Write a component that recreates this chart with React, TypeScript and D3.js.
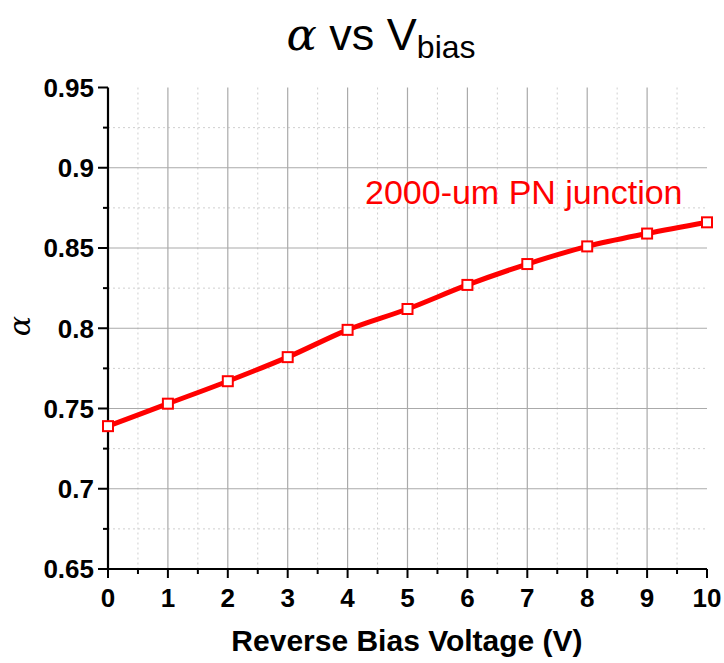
import React from "react";
import * as d3 from "d3";

const voltages = [0, 1, 2, 3, 4, 5, 6, 7, 8, 9, 10];
const alphaValues = [0.739, 0.753, 0.767, 0.782, 0.799, 0.812, 0.827, 0.84, 0.851, 0.859, 0.866];
const xTicks = [0, 1, 2, 3, 4, 5, 6, 7, 8, 9, 10];
const yTicks = [0.65, 0.7, 0.75, 0.8, 0.85, 0.9, 0.95];
const yTickLabels = ["0.65", "0.7", "0.75", "0.8", "0.85", "0.9", "0.95"];
const seriesLabel = "2000-um PN junction";

const W = 724, H = 663;
const left = 108, right = 707, top = 87.5, bottom = 569;

export default function App() {
  const x = d3.scaleLinear().domain([0, 10]).range([left, right]);
  const y = d3.scaleLinear().domain([0.65, 0.95]).range([bottom, top]);
  const xMinor = d3.range(0, 10).map((v) => v + 0.5);
  const yMinor = d3.range(0, 6).map((i) => 0.675 + i * 0.05);
  const line = d3
    .line<number>()
    .x((_, i) => x(voltages[i]))
    .y((d) => y(d))
    .curve(d3.curveMonotoneX);
  const font = "'Liberation Sans', Arial, Helvetica, sans-serif";
  return (
    <svg width={W} height={H} style={{ position: "absolute", left: 0, top: 0, background: "#fff" }}>
      {/* minor grid */}
      {xMinor.map((v) => (
        <line key={"xm" + v} x1={x(v)} x2={x(v)} y1={top} y2={bottom} stroke="#cfcfcf" strokeWidth={1} strokeDasharray="2,3" />
      ))}
      {yMinor.map((v) => (
        <line key={"ym" + v} x1={left} x2={right} y1={y(v)} y2={y(v)} stroke="#cfcfcf" strokeWidth={1} strokeDasharray="2,3" />
      ))}
      {/* major grid */}
      {xTicks.slice(1, -1).map((v) => (
        <line key={"xg" + v} x1={x(v)} x2={x(v)} y1={top} y2={bottom} stroke="#aaaaaa" strokeWidth={1.2} />
      ))}
      {yTicks.slice(1, -1).map((v) => (
        <line key={"yg" + v} x1={left} x2={right} y1={y(v)} y2={y(v)} stroke="#aaaaaa" strokeWidth={1.2} />
      ))}
      {/* axes */}
      <line x1={left} x2={left} y1={top} y2={bottom + 1} stroke="#000" strokeWidth={2.2} />
      <line x1={left - 1} x2={right} y1={bottom} y2={bottom} stroke="#000" strokeWidth={2.2} />
      {yTicks.map((v) => (
        <line key={"yt" + v} x1={left - 10} x2={left} y1={y(v)} y2={y(v)} stroke="#000" strokeWidth={2} />
      ))}
      {yMinor.map((v) => (
        <line key={"ymt" + v} x1={left - 5} x2={left} y1={y(v)} y2={y(v)} stroke="#000" strokeWidth={2} />
      ))}
      {xTicks.map((v) => (
        <line key={"xt" + v} x1={x(v)} x2={x(v)} y1={bottom} y2={bottom + 9} stroke="#000" strokeWidth={2} />
      ))}
      {xMinor.map((v) => (
        <line key={"xmt" + v} x1={x(v)} x2={x(v)} y1={bottom} y2={bottom + 5} stroke="#000" strokeWidth={2} />
      ))}
      {/* tick labels */}
      {yTicks.map((v, i) => (
        <text key={"yl" + v} x={left - 14} y={y(v)} dy="0.36em" textAnchor="end" fontFamily={font} fontWeight="bold" fontSize={26} fill="#000">
          {yTickLabels[i]}
        </text>
      ))}
      {xTicks.map((v) => (
        <text key={"xl" + v} x={x(v)} y={bottom + 38} textAnchor="middle" fontFamily={font} fontWeight="bold" fontSize={26} fill="#000">
          {v}
        </text>
      ))}
      {/* axis titles */}
      <text x={407} y={651} textAnchor="middle" fontFamily={font} fontWeight="bold" fontSize={30} fill="#000">
        Reverse Bias Voltage (V)
      </text>
      <text transform="translate(30,326) rotate(-90)" textAnchor="middle" fontFamily="'DejaVu Serif', 'Liberation Serif', serif" fontStyle="italic" fontSize={30} fill="#000">
        α
      </text>
      {/* title */}
      <text x={381} y={50} textAnchor="middle" fontFamily={font} fontSize={45} fill="#000">
        <tspan fontFamily="'DejaVu Serif', 'Liberation Serif', serif" fontStyle="italic">α</tspan>
        <tspan> vs V</tspan>
        <tspan fontSize={32} dy={8}>bias</tspan>
      </text>
      {/* series */}
      <path d={line(alphaValues) || ""} fill="none" stroke="#ff0000" strokeWidth={5} />
      {alphaValues.map((v, i) => (
        <rect key={"m" + i} x={x(voltages[i]) - 5} y={y(v) - 5} width={10} height={10} fill="#fff" stroke="#ff0000" strokeWidth={2} />
      ))}
      <text x={365} y={204} fontFamily={font} fontSize={34} fill="#ff0000">
        {seriesLabel}
      </text>
    </svg>
  );
}
